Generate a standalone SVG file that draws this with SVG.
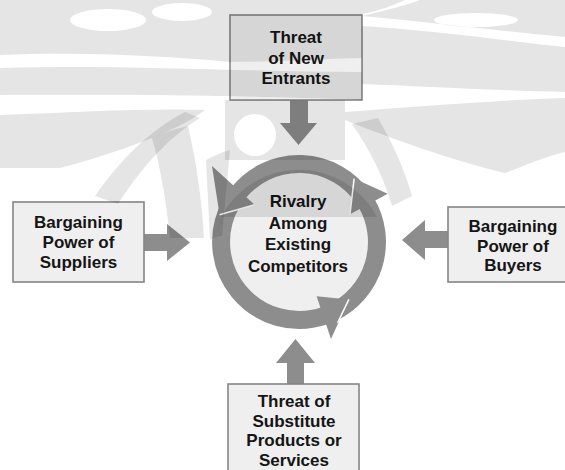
<svg xmlns="http://www.w3.org/2000/svg" width="565" height="470" viewBox="0 0 565 470">
  <style>
    .box { fill: #efefef; stroke: #858585; stroke-width: 1.6; }
    .lbl { font-family: "Liberation Sans", Arial, Helvetica, sans-serif; font-weight: bold; font-size: 17px; fill: #151515; text-anchor: middle; }
    .blk { fill: #8d8d8d; }
    .ring { fill: none; stroke: #8d8d8d; stroke-width: 18; }
    .head { fill: #8d8d8d; }
    .cut { stroke: #ffffff; stroke-width: 1.5; fill: none; }
    .emblem { fill: #000000; fill-opacity: 0.1; }
  </style>

  <rect x="0" y="0" width="565" height="470" fill="#ffffff"/>

  <!-- block arrows from the four outer forces toward the centre -->
  <g id="connectors">
    <polygon class="blk" points="290,100 308,100 308,123 317,123 298.5,145 280,123 290,123"/>
    <polygon class="blk" points="144,234 167,234 167,224 190,242.5 167,261 167,251 144,251"/>
    <polygon class="blk" points="448,231 425,231 425,220 402,240 425,260 425,248 448,248"/>
    <polygon class="blk" points="287,385 287,363 276,363 295.5,339 315,363 304,363 304,385"/>
  </g>

  <!-- centre: rivalry with its circular arrows -->
  <g id="rivalry">
    <circle cx="299" cy="242" r="69" fill="#efefef"/>
    <path class="ring" d="M333.2,312.1 A78,78 0 0 0 366.5,203"/>
    <path class="ring" d="M362.9,197.3 A78,78 0 0 0 238.4,192.9"/>
    <path class="ring" d="M231.5,203 A78,78 0 0 0 324.4,315.7"/>
    <polygon class="head" points="350,214.3 387.7,193.8 354.1,178.6"/>
    <polygon class="head" points="254.6,204.7 212,166 219.6,214.7"/>
    <polygon class="head" points="316.6,296.2 331,339 348.9,299.4"/>
    <line class="cut" x1="354.1" y1="178.6" x2="350" y2="214.3"/>
    <line class="cut" x1="219.6" y1="214.7" x2="254.6" y2="204.7"/>
    <line class="cut" x1="348.9" y1="299.4" x2="337.5" y2="323"/>
    <text class="lbl" x="298" y="207">Rivalry</text>
    <text class="lbl" x="298" y="228.5">Among</text>
    <text class="lbl" x="298" y="250">Existing</text>
    <text class="lbl" x="298" y="271.5">Competitors</text>
  </g>

  <g id="new-entrants">
    <rect class="box" x="230" y="15" width="132" height="85"/>
    <text class="lbl" x="296" y="43">Threat</text>
    <text class="lbl" x="296" y="63.5">of New</text>
    <text class="lbl" x="296" y="84">Entrants</text>
  </g>

  <g id="suppliers">
    <rect class="box" x="13" y="202" width="131" height="80"/>
    <text class="lbl" x="78.5" y="228">Bargaining</text>
    <text class="lbl" x="78.5" y="248">Power of</text>
    <text class="lbl" x="78.5" y="267.5">Suppliers</text>
  </g>

  <g id="buyers">
    <rect class="box" x="448" y="207" width="120" height="75"/>
    <text class="lbl" x="513" y="232">Bargaining</text>
    <text class="lbl" x="513" y="252">Power of</text>
    <text class="lbl" x="513" y="271">Buyers</text>
  </g>

  <g id="substitutes">
    <rect class="box" x="228" y="384" width="131" height="90"/>
    <text class="lbl" x="294" y="407">Threat of</text>
    <text class="lbl" x="294" y="426.5">Substitute</text>
    <text class="lbl" x="294" y="446">Products or</text>
    <text class="lbl" x="294" y="465.5">Services</text>
  </g>

  <!-- faint emblem in the upper half, laid over everything -->
  <g id="emblem" class="emblem" fill-rule="evenodd">
    <path d="M0,0 H405 C392,6 378,11 362,14 L362,58 C300,60 260,62 230,62 C150,55 80,52 0,55 Z
             M70,20 a38,11 0 1 0 76,0 a38,11 0 1 0 -76,0 Z
             M152,12 a30,9 0 1 0 60,0 a30,9 0 1 0 -60,0 Z"/>
    <path d="M420,0 H565 V37 C500,31 430,22 362,16 C388,10 406,5 420,0 Z
             M434,20 a42,7 0 1 0 84,0 a42,7 0 1 0 -84,0 Z"/>
    <path d="M0,68 C120,64 250,72 362,72 L362,26 C430,30 500,40 565,47 V92 C480,90 420,86 362,84 L362,100 C300,98 200,94 0,95 Z"/>
    <path d="M0,115 C80,112 150,108 205,110 C180,130 120,152 60,168 L0,168 Z"/>
    <path d="M345,112 C420,106 500,100 565,98 V152 C540,158 520,168 505,173 C450,160 390,138 345,120 Z"/>
    <path d="M95,196 C120,160 150,130 185,112 L200,118 C165,140 140,170 118,204 Z"/>
    <path d="M152,138 C165,132 178,128 188,126 C196,160 202,200 204,238 L170,238 C166,200 160,165 152,138 Z"/>
    <path d="M206,160 C214,156 222,152 230,150 L222,236 C218,236 214,238 210,240 Z"/>
    <path d="M352,124 L378,118 C392,142 404,168 412,196 L392,206 C384,178 370,150 352,124 Z"/>
    <path d="M225,100 H345 V160 H225 Z M234,135 a21,21 0 1 0 42,0 a21,21 0 1 0 -42,0 Z"/>
    <path d="M221,217 A88,88 0 0 1 377,217 Z"/>
  </g>
</svg>
